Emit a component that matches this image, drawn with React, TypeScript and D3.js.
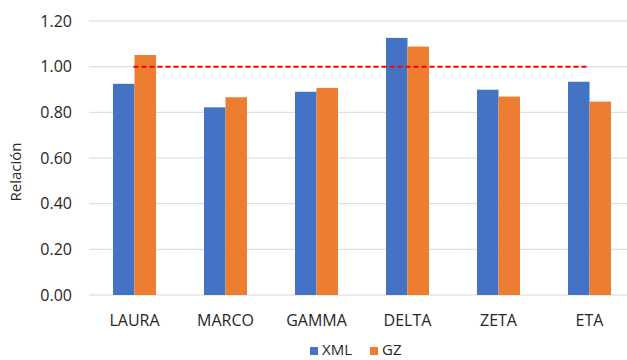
import React, { useEffect, useRef } from 'react';
import * as d3 from 'd3';

const categories = ['LAURA', 'MARCO', 'GAMMA', 'DELTA', 'ZETA', 'ETA'];
const xmlValues = [0.925, 0.822, 0.89, 1.126, 0.899, 0.934];
const gzValues = [1.051, 0.866, 0.907, 1.088, 0.869, 0.847];
const yTicks = [0, 0.2, 0.4, 0.6, 0.8, 1.0, 1.2];
const seriesNames = ['XML', 'GZ'];
const referenceValue = 1.0;

const colors = ['#4472C4', '#ED7D31'];
const FONT = "'Open Sans', 'Liberation Sans', sans-serif";

export default function App() {
  const svgRef = useRef<SVGSVGElement>(null);
  const width = 627;
  const height = 360;

  useEffect(() => {
    const svg = d3.select(svgRef.current);
    svg.selectAll('*').remove();

    const left = 89;
    const right = 635;
    const top = 21;
    const bottom = 295;

    const x = d3.scaleBand<string>().domain(categories).range([left, right]).paddingInner(0).paddingOuter(0);
    const y = d3.scaleLinear().domain([0, 1.2]).range([bottom, top]);
    const barW = 21.5;

    // Gridlines
    svg.append('g')
      .selectAll('line')
      .data(yTicks)
      .enter()
      .append('line')
      .attr('x1', left)
      .attr('x2', width)
      .attr('y1', d => y(d))
      .attr('y2', d => y(d))
      .attr('stroke', '#D9D9D9')
      .attr('stroke-width', 1);

    // Y labels
    svg.append('g')
      .selectAll('text')
      .data(yTicks)
      .enter()
      .append('text')
      .attr('x', 72)
      .attr('y', d => y(d))
      .attr('dy', '0.35em')
      .attr('text-anchor', 'end')
      .style('font-family', FONT)
      .style('font-size', '16px')
      .style('fill', '#262626')
      .text(d => d.toFixed(2));

    // Bars
    const series = [xmlValues, gzValues];
    series.forEach((vals, si) => {
      svg.append('g')
        .selectAll('rect')
        .data(vals)
        .enter()
        .append('rect')
        .attr('x', (_, i) => x(categories[i])! + x.bandwidth() / 2 - barW + si * barW)
        .attr('y', d => y(d))
        .attr('width', barW)
        .attr('height', d => y(0) - y(d))
        .attr('fill', colors[si]);
    });

    // Reference line
    svg.append('line')
      .attr('x1', x(categories[0])! + x.bandwidth() / 2 - 1)
      .attr('x2', x(categories[categories.length - 1])! + x.bandwidth() / 2 - 2)
      .attr('y1', y(referenceValue))
      .attr('y2', y(referenceValue))
      .attr('stroke', '#FF0000')
      .attr('stroke-width', 2)
      .attr('stroke-dasharray', '5,3');

    // X labels
    svg.append('g')
      .selectAll('text')
      .data(categories)
      .enter()
      .append('text')
      .attr('x', d => x(d)! + x.bandwidth() / 2)
      .attr('y', 320)
      .attr('dy', '0.35em')
      .attr('text-anchor', 'middle')
      .style('font-family', FONT)
      .style('font-size', '16px')
      .style('fill', '#262626')
      .text(d => d);

    // Y title
    svg.append('text')
      .attr('transform', 'translate(16,172) rotate(-90)')
      .attr('text-anchor', 'middle')
      .attr('dy', '0.35em')
      .style('font-family', FONT)
      .style('font-size', '15px')
      .style('fill', '#262626')
      .text('Relación');

    // Legend
    const legendX = [310, 370];
    seriesNames.forEach((name, i) => {
      svg.append('rect')
        .attr('x', legendX[i])
        .attr('y', 347)
        .attr('width', 8)
        .attr('height', 8)
        .attr('fill', colors[i]);
      svg.append('text')
        .attr('x', legendX[i] + 12)
        .attr('y', 350)
        .attr('dy', '0.35em')
        .style('font-family', FONT)
        .style('font-size', '15px')
        .style('fill', '#262626')
        .text(name);
    });
  }, []);

  return (
    <svg
      ref={svgRef}
      width={width}
      height={height}
      style={{ position: 'absolute', left: 0, top: 0, background: '#fff' }}
    />
  );
}
